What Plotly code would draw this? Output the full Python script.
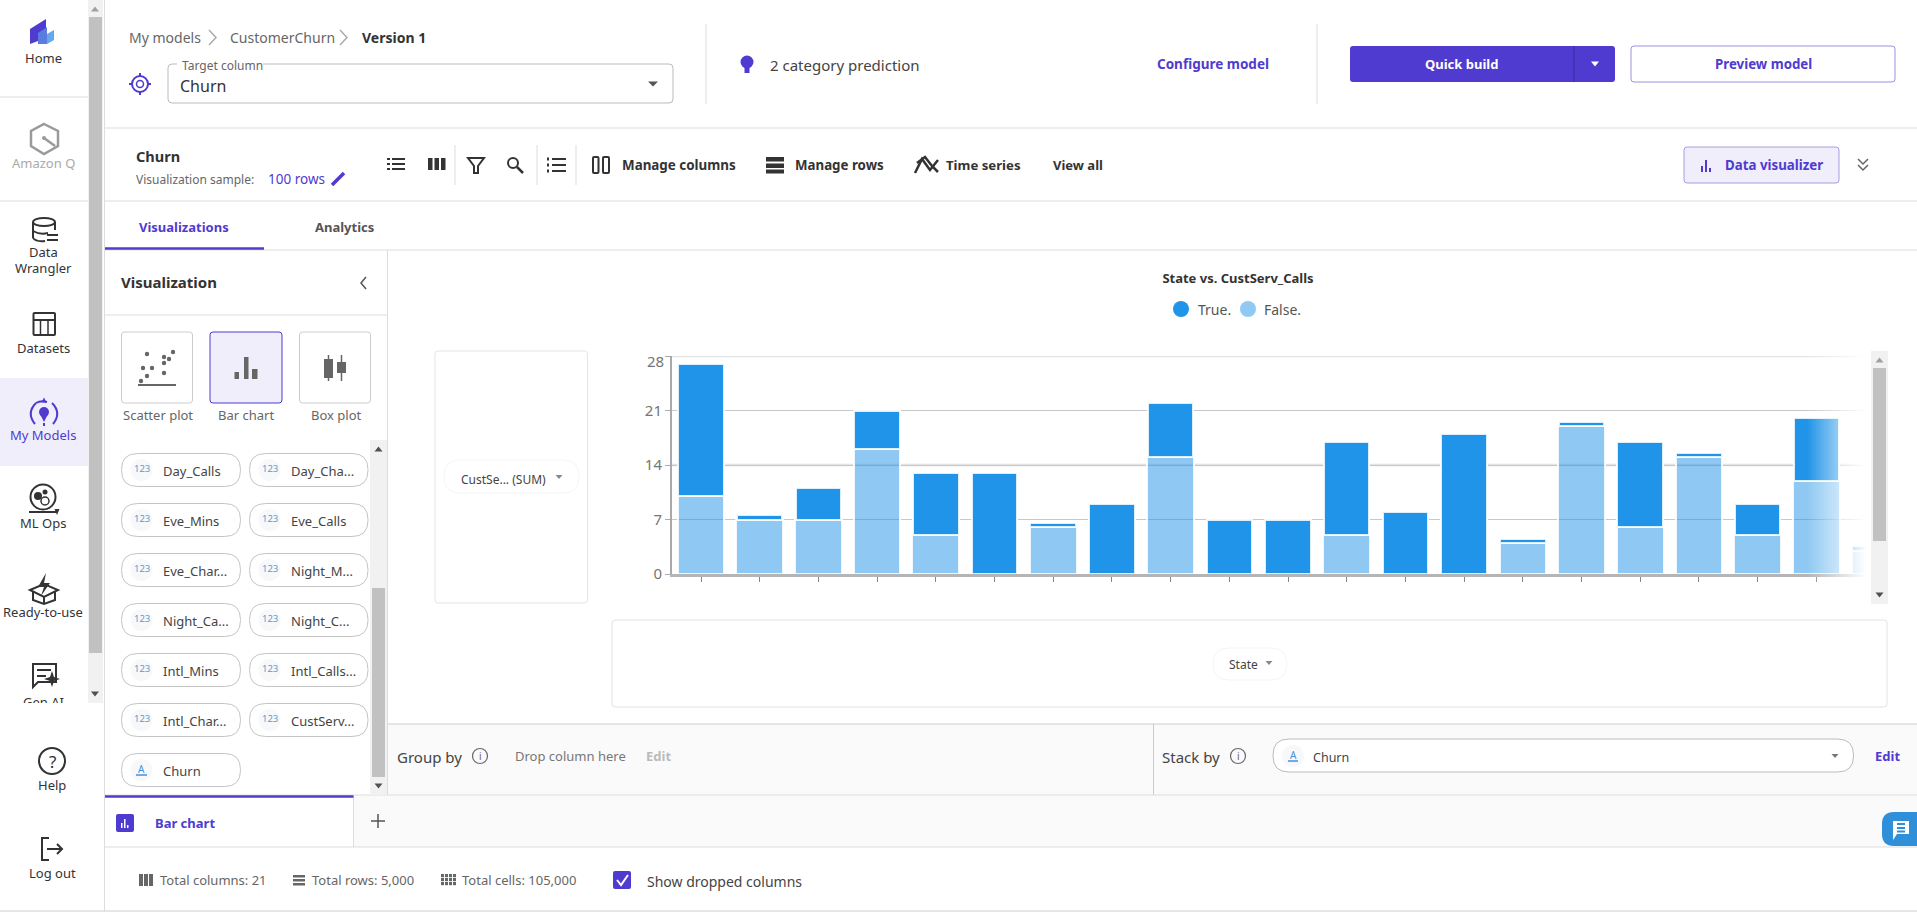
import plotly.graph_objects as go

W, H = 1917, 912
PURPLE = '#4f3bd0'
DARK = '#333333'
GREY = '#666666'
LINE = '#dddddd'
LILAC = '#f0eefb'
FONT = 'Noto Sans'

# chart values (state names are not visible in it)
state_pos = list(range(21))
false_calls = [10, 7, 7, 16, 5, 0, 6, 0, 15, 0, 0, 5, 0, 0, 4, 19, 6, 15, 5, 12, 3]
true_calls = [17, 0.55, 4, 5, 8, 13, 0.55, 9, 7, 7, 7, 12, 8, 18, 0.55, 0.55, 11, 0.55, 4, 8, 0.6]
y_ticks = [0, 7, 14, 21, 28]
y_labels = ['0', '7', '14', '21', '']  # 28 sits lower than its tick, added as a note below

pills_left = ['Day_Calls', 'Eve_Mins', 'Eve_Char...', 'Night_Ca...', 'Intl_Mins', 'Intl_Char...', 'Churn']
pills_right = ['Day_Cha...', 'Eve_Calls', 'Night_M...', 'Night_C...', 'Intl_Calls...', 'CustServ...']
pill_rows = [470, 520, 570, 620, 670, 720, 770]

shapes = []
notes = []


def X(x):
    return x / W


def Y(y):
    return 1 - y / H


def style(fill, line, lw):
    return dict(fillcolor=fill or 'rgba(0,0,0,0)', line=dict(color=line or 'rgba(0,0,0,0)', width=lw if line else 0))


def rect(x0, y0, x1, y1, fill=None, line=None, lw=1, r=0, layer='above'):
    if r == 0:
        shapes.append(dict(type='rect', xref='paper', yref='paper', x0=X(x0), x1=X(x1), y0=Y(y0), y1=Y(y1),
                           layer=layer, **style(fill, line, lw)))
        return
    p = (f'M {X(x0 + r)} {Y(y0)} L {X(x1 - r)} {Y(y0)} Q {X(x1)} {Y(y0)} {X(x1)} {Y(y0 + r)} '
         f'L {X(x1)} {Y(y1 - r)} Q {X(x1)} {Y(y1)} {X(x1 - r)} {Y(y1)} '
         f'L {X(x0 + r)} {Y(y1)} Q {X(x0)} {Y(y1)} {X(x0)} {Y(y1 - r)} '
         f'L {X(x0)} {Y(y0 + r)} Q {X(x0)} {Y(y0)} {X(x0 + r)} {Y(y0)} Z')
    shapes.append(dict(type='path', xref='paper', yref='paper', path=p, layer=layer, **style(fill, line, lw)))


def seg(x0, y0, x1, y1, color=LINE, lw=1):
    shapes.append(dict(type='line', xref='paper', yref='paper', x0=X(x0), x1=X(x1), y0=Y(y0), y1=Y(y1),
                       line=dict(color=color, width=lw)))


def circ(cx, cy, r, fill=None, line=None, lw=1, ry=None):
    ry = ry or r
    shapes.append(dict(type='circle', xref='paper', yref='paper', x0=X(cx - r), x1=X(cx + r), y0=Y(cy - ry), y1=Y(cy + ry),
                       **style(fill, line, lw)))


def poly(points, fill=None, line=None, lw=1, closed=True):
    p = 'M ' + ' L '.join(f'{X(a)} {Y(b)}' for a, b in points)
    if closed:
        p += ' Z'
    shapes.append(dict(type='path', xref='paper', yref='paper', path=p, **style(fill, line, lw)))


def curve(x0, y0, cx, cy, x1, y1, line=DARK, lw=2):
    p = f'M {X(x0)} {Y(y0)} Q {X(cx)} {Y(cy)} {X(x1)} {Y(y1)}'
    shapes.append(dict(type='path', xref='paper', yref='paper', path=p, **style(None, line, lw)))


def tri(cx, cy, w, h, color=GREY, down=True):
    s = 1 if down else -1
    poly([(cx - w / 2, cy - s * h / 2), (cx + w / 2, cy - s * h / 2), (cx, cy + s * h / 2)], fill=color)


def txt(x, y, s, size=13, color=DARK, bold=False, anchor='left', **kw):
    notes.append(dict(xref='paper', yref='paper', x=X(x), y=Y(y), text=f'<b>{s}</b>' if bold else s, showarrow=False,
                      xanchor=anchor, yanchor='middle', borderpad=0, borderwidth=0,
                      font=dict(family=FONT, size=size, color=color), **kw))


# main regions and dividers
rect(388, 724, W, 795, fill='#fafafa')
rect(354, 795, W, 847, fill='#fafafa')
seg(388, 724, W, 724, '#cccccc')
seg(1153.5, 724, 1153.5, 795, '#cccccc')
seg(105, 795, W, 795)
seg(105, 847, W, 847)
seg(0, 911, W, 911, '#cccccc')
seg(105, 128, W, 128)
seg(105, 201, W, 201)
seg(105, 250, W, 250)
seg(105, 315, 387, 315)
seg(104.5, 0, 104.5, 912)
seg(387.5, 250, 387.5, 795)
seg(353.5, 795, 353.5, 847)
seg(105, 796.5, 353.5, 796.5, PURPLE, 2.5)
seg(105, 248.5, 264, 248.5, PURPLE, 2.5)
seg(0, 97, 88, 97)
seg(0, 201, 88, 201)

# sidebar
rect(0, 378, 88, 466, fill=LILAC)
rect(88, 0, 103, 703, fill='#f1f1f1')
rect(89, 17, 102, 653, fill='#c1c1c1')
tri(95, 9, 8, 5, '#a0a0a0', down=False)
tri(95, 694, 8, 5, '#505050')

poly([(30, 29), (46, 19), (46, 38), (30, 44)], fill=PURPLE)
poly([(38, 33), (47, 27), (47, 44), (38, 44)], fill='#5a7be0')
poly([(47, 34), (54, 30), (54, 40), (47, 44)], fill='#66a8ef')
txt(43, 58, 'Home', 13, DARK, anchor='center')

poly([(44, 124), (58, 131), (58, 146), (44, 154), (31, 146), (31, 131)], line='#9a9a9a', lw=2.5)
circ(44, 138, 2, fill='#9a9a9a')
seg(44, 138, 55, 146, '#9a9a9a', 2.5)
txt(43, 163, 'Amazon Q', 13, '#aaaaaa', anchor='center')

circ(44, 222, 11, line=DARK, lw=2, ry=4)
seg(33, 222, 33, 238, DARK, 2)
curve(33, 238, 36, 242, 45, 241, DARK, 2)
seg(55, 222, 55, 230, DARK, 2)
curve(33, 231, 40, 235, 48, 233, DARK, 2)
poly([(47, 235), (58, 235)], line=DARK, lw=2, closed=False)
poly([(47, 240), (58, 240)], line=DARK, lw=2, closed=False)
txt(43, 252, 'Data', 13, DARK, anchor='center')
txt(43, 268, 'Wrangler', 13, DARK, anchor='center')

rect(33.5, 313, 55, 335, line=DARK, lw=2, r=1)
seg(33.5, 320, 55, 320, DARK, 2)
seg(40.5, 320, 40.5, 335, DARK, 1.5)
seg(48, 320, 48, 335, DARK, 1.5)
txt(43, 348, 'Datasets', 13, DARK, anchor='center')

circ(44, 412, 5, fill=PURPLE)
poly([(40, 414), (48, 414), (44, 422)], fill=PURPLE)
curve(36, 403, 26, 413, 35, 424, PURPLE, 2)
curve(52, 403, 62, 413, 53, 424, PURPLE, 2)
curve(36, 403, 41, 400, 47, 402, PURPLE, 2)
tri(44, 400, 5, 5, PURPLE, down=False)
seg(44, 423, 44, 426, PURPLE, 2)
txt(43, 435, 'My Models', 13, PURPLE, anchor='center')

circ(43, 497, 12.5, line=DARK, lw=2)
circ(38, 496, 4, fill=DARK)
circ(45, 492, 2.5, fill=DARK)
circ(45, 501, 4, line=DARK, lw=1.5)
seg(29, 512, 56, 512, DARK, 2)
tri(57, 512, 5, 6, DARK)
txt(43, 523, 'ML Ops', 13, DARK, anchor='center')

poly([(46, 573), (38, 587), (44, 587), (41, 596), (50, 583), (44, 583)], fill=DARK)
poly([(30, 590), (44, 584), (58, 590), (44, 597)], line=DARK, lw=2)
poly([(33, 592), (33, 600), (44, 604), (55, 600), (55, 592)], line=DARK, lw=2, closed=False)
seg(44, 597, 44, 604, DARK, 2)
txt(43, 612, 'Ready-to-use', 13, DARK, anchor='center')

poly([(33, 664), (56, 664), (56, 682), (38, 682), (33, 687)], line=DARK, lw=2)
seg(37, 670, 51, 670, DARK, 2)
seg(37, 676, 46, 676, DARK, 2)
poly([(52, 671), (54, 677), (60, 679), (54, 681), (52, 687), (50, 681), (44, 679), (50, 677)], fill=DARK)
txt(43, 698, 'Gen AI', 13, DARK, anchor='center', height=10, valign='top')

circ(52, 761, 13, line=DARK, lw=2)
txt(52, 761, '?', 17, DARK, anchor='center')
txt(52, 785, 'Help', 13, DARK, anchor='center')

poly([(49, 838), (42, 838), (42, 860), (49, 860)], line=DARK, lw=2, closed=False)
seg(47, 849, 62, 849, DARK, 2)
poly([(57, 844), (62, 849), (57, 854)], line=DARK, lw=2, closed=False)
txt(52, 873, 'Log out', 13, DARK, anchor='center')

# top header
txt(128.5, 37.5, 'My models', 14, GREY)
poly([(209, 30), (216, 37.5), (209, 45)], line='#aaaaaa', lw=1.5, closed=False)
txt(230, 37.5, 'CustomerChurn', 14, GREY)
poly([(340, 30), (347, 37.5), (340, 45)], line='#aaaaaa', lw=1.5, closed=False)
txt(361.5, 37.5, 'Version 1', 14, DARK, bold=True)

circ(140, 84, 8, line=PURPLE, lw=2)
circ(140, 84, 3.5, line=PURPLE, lw=1.5)
for a, b, c, d in [(140, 73, 140, 77), (140, 91, 140, 95), (129, 84, 133, 84), (147, 84, 151, 84)]:
    seg(a, b, c, d, PURPLE, 2)

rect(168, 64, 673, 103, line='#bbbbbb', r=4)
rect(177, 60, 263, 68, fill='#ffffff')
txt(182, 65, 'Target column', 12, GREY)
txt(180, 86, 'Churn', 16, DARK)
tri(653, 84, 10, 5, '#555555')

seg(706, 24, 706, 104)
seg(1317, 24, 1317, 104)
circ(747, 62, 6.5, fill=PURPLE)
rect(744.5, 67, 749.5, 73, fill=PURPLE)
txt(770, 65, '2 category prediction', 15, '#444444')
txt(1212.5, 64, 'Configure model', 13.5, PURPLE, bold=True, anchor='center')

rect(1350, 46, 1615, 82, fill=PURPLE, r=3)
seg(1574, 46, 1574, 82, '#3a2aa0')
txt(1461, 64, 'Quick build', 13, '#ffffff', bold=True, anchor='center')
tri(1595, 64, 8, 5, '#ffffff')
rect(1631, 46, 1895, 82, line='#9d8fe0', r=3)
txt(1763, 64, 'Preview model', 13.3, PURPLE, bold=True, anchor='center')

# toolbar row
txt(136, 156, 'Churn', 14.5, DARK, bold=True)
txt(136, 179, 'Visualization sample:', 12, GREY)
txt(268, 179, '100 rows', 13.5, PURPLE)
seg(332, 185, 344, 173, PURPLE, 3.5)

for b in [159, 164, 169]:
    rect(387, b - 1, 390, b + 1, fill=DARK)
    rect(392, b - 1, 405, b + 1, fill=DARK)
for a in [428, 434.5, 441]:
    rect(a, 158, a + 4.5, 170, fill=DARK)
seg(455, 145, 455, 185)
poly([(468, 158), (484, 158), (478, 166), (478, 173), (474, 173), (474, 166)], line=DARK, lw=2)
circ(513, 163, 5, line=DARK, lw=2)
seg(517, 167, 523, 173, DARK, 2.5)
seg(537, 145, 537, 185)
for b in [159, 165, 171]:
    rect(552, b - 1, 566, b + 1, fill=DARK)
    rect(547, b - 1.5, 549, b + 1.5, fill=DARK)
seg(576, 145, 576, 185)

rect(593, 157, 598.5, 173, line=DARK, lw=2, r=1)
rect(603, 157, 609, 173, line=DARK, lw=2, r=1)
txt(622, 165, 'Manage columns', 13.4, DARK, bold=True)
for a, b in [(157, 161.5), (163.5, 168), (169.5, 173.5)]:
    rect(766, a, 784, b, fill=DARK)
txt(795, 165, 'Manage rows', 13.3, DARK, bold=True)
poly([(915, 173), (922, 159), (930, 170), (938, 160)], line=DARK, lw=2.5, closed=False)
poly([(917, 163), (925, 157), (932, 166), (938, 172)], line=DARK, lw=2.5, closed=False)
txt(946, 165, 'Time series', 13.2, DARK, bold=True)
txt(1053, 165, 'View all', 13, DARK, bold=True)

rect(1684, 147, 1839, 183, fill=LILAC, line='#a89ce0', r=3)
rect(1701, 166, 1703, 172, fill=PURPLE)
rect(1705, 160, 1707, 172, fill=PURPLE)
rect(1709, 168, 1711, 172, fill=PURPLE)
txt(1725, 165, 'Data visualizer', 13.3, PURPLE, bold=True)
poly([(1858, 159), (1863, 164), (1868, 159)], line=GREY, lw=1.5, closed=False)
poly([(1858, 165), (1863, 170), (1868, 165)], line=GREY, lw=1.5, closed=False)

txt(139, 227, 'Visualizations', 13, PURPLE, bold=True)
txt(315, 227, 'Analytics', 13, '#555555', bold=True)

# visualization panel
txt(121, 282, 'Visualization', 15, DARK, bold=True)
poly([(366, 277), (361, 283), (366, 289)], line='#555555', lw=1.5, closed=False)

rect(121.5, 332, 192.5, 403, line='#cccccc', r=3)
rect(210, 332, 282, 403, fill=LILAC, line=PURPLE, r=3)
rect(299.5, 332, 370.5, 403, line='#cccccc', r=3)
txt(157.5, 415, 'Scatter plot', 13, GREY, anchor='center')
txt(246, 415, 'Bar chart', 13, GREY, anchor='center')
txt(336, 415, 'Box plot', 13, GREY, anchor='center')
# small pictures on the cards
for a, b in [(147, 354), (173, 352), (164, 357), (169, 359), (143, 368), (152, 368), (164, 363), (164, 373), (147, 376), (141, 381)]:
    circ(a, b, 2.2, fill=GREY)
seg(138, 385, 176, 385, GREY, 2)
rect(234.5, 372, 239, 379, fill=GREY)
rect(244, 357, 248.5, 379, fill=GREY)
rect(252, 369, 257.5, 379, fill=GREY)
rect(324, 359, 333, 378, fill=GREY)
seg(328.5, 355, 328.5, 381, GREY, 1.5)
rect(337, 362, 346, 373, fill=GREY)
seg(341.5, 355, 341.5, 381, GREY, 1.5)

rect(370, 440, 387, 795, fill='#f1f1f1')
rect(372, 588, 385, 777, fill='#c1c1c1')
tri(378.5, 449, 8, 5, '#505050', down=False)
tri(378.5, 786, 8, 5, '#505050')

for row, label in zip(pill_rows, pills_left):
    rect(121.5, row - 16.5, 240.5, row + 16.5, line='#c4c4c4', r=16)
    circ(141.5, row, 11, fill='#f7f8f9')
    if label == 'Churn':
        txt(141.5, row - 1, 'A', 10, '#4a90d9', anchor='center')
        seg(136, row + 5, 147, row + 5, '#4a90d9', 1.5)
    else:
        txt(141.5, row - 2, '123', 9.5, '#5b9bd5', anchor='center')
    txt(162.5, row + 1, label, 13, '#444444')
for row, label in zip(pill_rows, pills_right):
    rect(249.5, row - 16.5, 368, row + 16.5, line='#c4c4c4', r=16)
    circ(269.5, row, 11, fill='#f7f8f9')
    txt(269.5, row - 2, '123', 9.5, '#5b9bd5', anchor='center')
    txt(290.5, row + 1, label, 13, '#444444')

# frames around the chart
rect(435, 351, 587.5, 603, line='#e5e5e5', r=3)
rect(444, 460, 579, 493, line='#f5f5f5', r=16)
txt(503.5, 479, 'CustSe... (SUM)', 12, '#444444', anchor='center')
tri(559, 477, 7, 4, '#888888')
rect(612, 620, 1887, 707, line='#e2e2e2', r=3)
rect(1213, 648, 1287, 680, line='#f5f5f5', r=16)
txt(1243, 664, 'State', 12, '#444444', anchor='center')
tri(1269, 663, 7, 4, '#888888')

# chart scrollbar
rect(1871, 351, 1888, 604, fill='#f1f1f1')
rect(1873, 368, 1886, 541, fill='#c1c1c1')
tri(1879.5, 360, 8, 5, '#a0a0a0', down=False)
tri(1879.5, 595, 8, 5, '#505050')

# legend dots and the 28 label
circ(1181, 309, 8, fill='#2094e8')
txt(1198, 309, 'True.', 14, '#555555')
circ(1248, 309, 8, fill='#90caf4')
txt(1264, 309, 'False.', 14, '#555555')
txt(664, 361.5, '28', 15, '#757575', anchor='right')

# group by / stack by
txt(396.5, 757, 'Group by', 15, '#444444')
circ(480, 756, 7.5, line=GREY, lw=1.2)
txt(480, 756, 'i', 10, GREY, anchor='center')
txt(515, 756, 'Drop column here', 13, '#777777')
txt(646, 756, 'Edit', 13, '#bbbbbb', bold=True)
txt(1162, 757, 'Stack by', 15, '#444444')
circ(1238, 756, 7.5, line=GREY, lw=1.2)
txt(1238, 756, 'i', 10, GREY, anchor='center')
rect(1273, 739, 1853.5, 772, fill='#ffffff', line='#bbbbbb', r=16)
circ(1293, 756, 11, fill='#f7f8f9')
txt(1293, 755, 'A', 10, '#4a90d9', anchor='center')
seg(1288, 761, 1298, 761, '#4a90d9', 1.5)
txt(1313, 757, 'Churn', 12.5, '#444444')
tri(1835, 756, 7, 4, '#777777')
txt(1875, 756, 'Edit', 13, PURPLE, bold=True)

# bottom tab and footer
rect(116, 814, 134, 832, fill=PURPLE, r=2)
rect(121, 823, 122.5, 828, fill='#ffffff')
rect(124, 819, 125.5, 828, fill='#ffffff')
rect(127, 825, 128.5, 828, fill='#ffffff')
txt(154.5, 823, 'Bar chart', 13, PURPLE, bold=True)
seg(378, 814, 378, 828, '#555555', 1.5)
seg(371, 821, 385, 821, '#555555', 1.5)

for a in [139, 144, 149]:
    rect(a, 874, a + 4, 886, fill=GREY)
txt(160, 880, 'Total columns: 21', 13, GREY)
for b in [875, 879, 883]:
    rect(293, b, 305, b + 2.5, fill=GREY)
txt(311.5, 880, 'Total rows: 5,000', 13, GREY)
for a in [441, 445, 449, 453]:
    for b in [874, 878, 882]:
        rect(a, b, a + 3, b + 3.2, fill=GREY)
txt(462, 880, 'Total cells: 105,000', 13, GREY)
rect(613, 871, 631, 889, fill=PURPLE, r=2)
poly([(617, 880), (621, 885), (628, 875)], line='#ffffff', lw=2, closed=False)
txt(647, 881, 'Show dropped columns', 14, '#444444')

# chat button
rect(1882, 812, 1930, 846, fill='#2f8fd8', r=12)
poly([(1893, 821), (1909, 821), (1909, 834), (1897, 834), (1893, 840)], fill='#ffffff')
for b in [824, 828, 831.5]:
    seg(1897, b, 1905, b, '#2f8fd8', 2)

# thick light gridlines at 14 and 28, under the bars
for v in [14, 28]:
    shapes.append(dict(type='line', xref='x domain', yref='y', x0=0, x1=1, y0=v, y1=v, layer='below',
                       line=dict(color='#e4e4e4', width=2.5)))

# bars fade out towards the chart's right edge
for i in range(30):
    rect(1808 + 2 * i, 350, 1810 + 2 * i, 582, fill=f'rgba(255,255,255,{(i + 1) / 30:.3f})')

fig = go.Figure()
fig.add_bar(x=state_pos, y=false_calls, name='False.', width=0.795,
            marker=dict(color='rgba(32,148,232,0.5)', line=dict(color='rgba(255,255,255,0.85)', width=2)))
fig.add_bar(x=state_pos, y=true_calls, name='True.', width=0.775,
            marker=dict(color='#2094e8', line=dict(color='rgba(255,255,255,0.85)', width=2)))

fig.update_layout(
    width=W,
    height=H,
    margin=dict(l=0, r=0, t=0, b=0, autoexpand=False),
    barmode='stack',
    showlegend=False,
    hovermode=False,
    paper_bgcolor='white',
    plot_bgcolor='white',
    font=dict(family=FONT),
    title=dict(text='<b>State vs. CustServ_Calls</b>', x=1238 / W, y=Y(278), xanchor='center', yanchor='middle',
               font=dict(size=13, color=DARK, family=FONT)),
    xaxis=dict(domain=[X(672), X(1868)], range=[-0.494, 19.88], type='linear', tickvals=state_pos, showticklabels=False,
               ticks='outside', ticklen=5, tickcolor='#888888', showgrid=False, zeroline=False, automargin=False,
               showline=True, linecolor='#b5b5b5', linewidth=3, layer='below traces'),
    yaxis=dict(domain=[Y(574), Y(356)], range=[0, 28], tickvals=y_ticks, ticktext=y_labels,
               ticks='outside', ticklen=5, tickcolor='#aaaaaa',
               tickfont=dict(size=15, color='#757575', family=FONT), ticklabelstandoff=0, automargin=False,
               showgrid=True, gridcolor='#c8c8c8', gridwidth=1, zeroline=False,
               showline=True, linecolor='#a9a9a9', linewidth=2),
    shapes=shapes,
    annotations=notes,
)

fig.write_html('out.html', config=dict(displayModeBar=False),
               post_script="document.body.style.margin='0';document.body.style.overflow='hidden';")
